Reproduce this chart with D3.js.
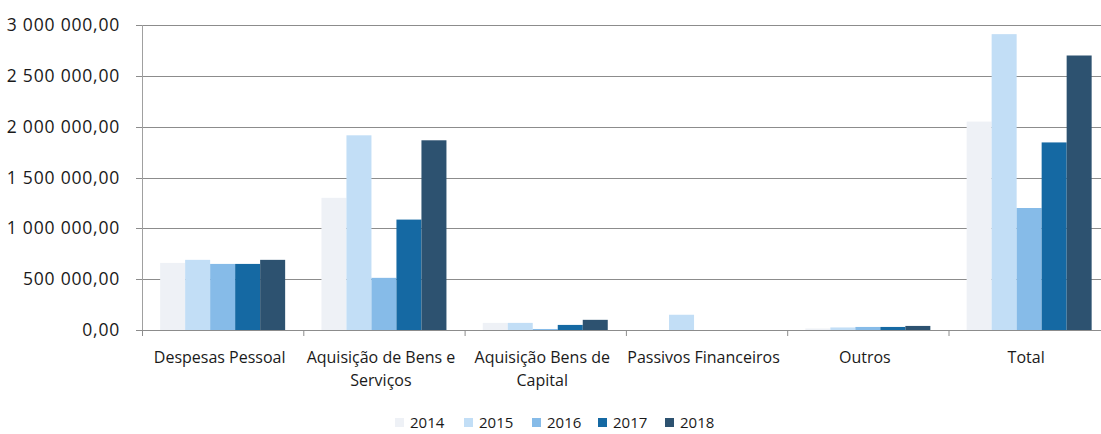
<!DOCTYPE html>
<html>
<head>
<meta charset="utf-8">
<script src="https://cdn.jsdelivr.net/npm/d3@7"></script>
<style>
  html, body { margin: 0; padding: 0; background: #fff; }
  svg { display: block; }
  text { font-family: "Open Sans", sans-serif; fill: #1a1a1a; }
</style>
</head>
<body>
<svg id="chart" width="1101" height="434"></svg>
<script>
const categories = ["Despesas Pessoal", "Aquisição de Bens e Serviços", "Aquisição Bens de Capital", "Passivos Financeiros", "Outros", "Total"];
const categoryLines = [["Despesas Pessoal"], ["Aquisição de Bens e", "Serviços"], ["Aquisição Bens de", "Capital"], ["Passivos Financeiros"], ["Outros"], ["Total"]];
const years = ["2014", "2015", "2016", "2017", "2018"];
const values2014 = [660000, 1300000, 70000, 0, 15000, 2050000];
const values2015 = [690000, 1915000, 70000, 150000, 25000, 2910000];
const values2016 = [650000, 513000, 10000, 0, 30000, 1200000];
const values2017 = [650000, 1086000, 50000, 0, 30000, 1845000];
const values2018 = [690000, 1866000, 100000, 0, 40000, 2700000];
const yTicks = [0, 500000, 1000000, 1500000, 2000000, 2500000, 3000000];
const colors = ["#eef1f6", "#c2def6", "#86bbe8", "#1569a3", "#2d5270"];

const seriesValues = [values2014, values2015, values2016, values2017, values2018];

const svg = d3.select("#chart");
const plotLeft = 142, plotTop = 25, plotH = 305, step = 161.3;
const plotRight = plotLeft + step * categories.length;

const x0 = d3.scaleBand().domain(categories).range([plotLeft, plotRight]).paddingInner(0).paddingOuter(0);
const x1 = d3.scaleBand().domain(years).range([0, step]).paddingInner(0).paddingOuter(0.726);
const y = d3.scaleLinear().domain([0, 3000000]).range([plotTop + plotH, plotTop]);

const fmt = v => {
  const s = d3.format(",.2f")(v);
  return s.replace(/,/g, " ").replace(/\.(\d\d)$/, ",$1");
};

// gridlines
svg.append("g").selectAll("line").data(yTicks.filter(d => d > 0)).join("line")
  .attr("x1", plotLeft - 6).attr("x2", plotRight)
  .attr("y1", d => Math.round(y(d)) + 0.5).attr("y2", d => Math.round(y(d)) + 0.5)
  .attr("stroke", "#8c8c8c").attr("stroke-width", 1);

// y axis labels
const yAxis = d3.axisLeft(y).tickValues(yTicks).tickFormat(fmt).tickSize(0).tickPadding(22);
const yg = svg.append("g").attr("transform", `translate(${plotLeft},0)`).call(yAxis);
yg.select(".domain").remove();
yg.selectAll("text").attr("font-size", 17.5).attr("letter-spacing", 0.8).attr("fill", "#1a1a1a").attr("font-family", "Open Sans, sans-serif");

// bars
const groups = svg.append("g").selectAll("g").data(categories).join("g")
  .attr("transform", d => `translate(${x0(d)},0)`);
groups.selectAll("rect").data((c, ci) => years.map((yr, si) => ({yr, si, v: seriesValues[si][ci]}))).join("rect")
  .attr("x", d => x1(d.yr))
  .attr("width", x1.bandwidth())
  .attr("y", d => y(d.v))
  .attr("height", d => y(0) - y(d.v))
  .attr("fill", d => colors[d.si]);

// left axis line
svg.append("line").attr("x1", plotLeft + 0.5).attr("x2", plotLeft + 0.5).attr("y1", plotTop).attr("y2", y(0))
  .attr("stroke", "#a0a0a0");
// baseline
svg.append("line").attr("x1", plotLeft - 6).attr("x2", plotRight).attr("y1", Math.round(y(0)) + 0.5).attr("y2", Math.round(y(0)) + 0.5)
  .attr("stroke", "#8c8c8c");

// x axis ticks
const bounds = d3.range(categories.length + 1).map(i => plotLeft + i * step);
svg.append("g").selectAll("line").data(bounds).join("line")
  .attr("x1", d => d + 0.5).attr("x2", d => d + 0.5)
  .attr("y1", y(0)).attr("y2", y(0) + 6).attr("stroke", "#8c8c8c");

// category labels
const lbl = svg.append("g").selectAll("text").data(categories).join("text")
  .attr("text-anchor", "middle").attr("font-size", 16)
  .attr("x", d => x0(d) + step / 2 - 3)
  .attr("y", 363);
lbl.each(function(d, i) {
  const t = d3.select(this);
  categoryLines[i].forEach((line, li) => {
    t.append("tspan").attr("x", x0(d) + step / 2 - 3).attr("dy", li === 0 ? 0 : 23).text(line);
  });
});

// legend
const legendX = [410, 479, 547, 613, 680];
const lg = svg.append("g").selectAll("g").data(years).join("g")
  .attr("transform", (d, i) => `translate(${legendX[i]},0)`);
lg.append("rect").attr("x", -15).attr("y", 418).attr("width", 9).attr("height", 9).attr("fill", (d, i) => colors[i]);
lg.append("text").attr("x", 0).attr("y", 428).attr("font-size", 15).text(d => d);
</script>
</body>
</html>
